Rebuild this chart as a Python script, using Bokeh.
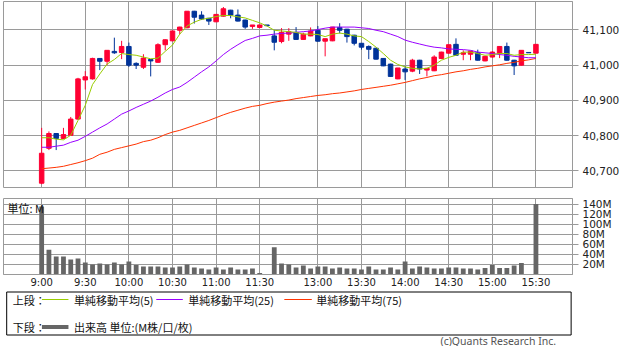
from bokeh.plotting import figure
from bokeh.layouts import column
from bokeh.models import Range1d, FixedTicker, NumeralTickFormatter, Label, ColumnDataSource
from bokeh.embed import file_html
from bokeh.resources import INLINE

# ---------------- data (5-minute bars, Nikkei-style intraday) ----------------
morning = [f"{9 + m // 60}:{m % 60:02d}" for m in range(0, 151, 5)]      # 9:00 .. 11:30
afternoon = [f"{12 + m // 60}:{m % 60:02d}" for m in range(30, 211, 5)]  # 12:30 .. 15:30
times = morning + ["11:35"] + afternoon

opens = [40665, 40764, 40806, 40792, 40801, 40847, 40958, 40961, 41019, 41011,
         41039, 41036, 41053, 41005, 40994, 41016, 41008, 41058, 41069, 41099,
         41106, 41153, 41142, 41133, 41123, 41139, 41156, 41142, 41128, 41110,
         41107, 41114, 41083, 41067, 41088, 41093, 41073, 41083, 41099, 41068,
         41069, 41107, 41102, 41085, 41062, 41053, 41048, 41019, 41003, 40961,
         40989, 40983, 41014, 40986, 40984, 41019, 41034, 41059, 41031, 41031,
         41035, 41012, 41023, 41033, 41053, 41014, 41000, 41036, 41034]
highs = [40822, 40812, 40806, 40822, 40853, 40964, 40983, 41021, 41020, 41042,
         41078, 41069, 41064, 41008, 41031, 41016, 41062, 41073, 41098, 41109,
         41153, 41154, 41153, 41134, 41145, 41165, 41157, 41158, 41129, 41114,
         41114, 41114, 41100, 41105, 41105, 41108, 41092, 41107, 41111, 41075,
         41108, 41119, 41103, 41086, 41063, 41056, 41049, 41020, 41004, 40992,
         40997, 41018, 41015, 40991, 41028, 41038, 41058, 41076, 41042, 41040,
         41044, 41026, 41040, 41053, 41064, 41015, 41042, 41036, 41060]
lows = [40662, 40759, 40759, 40790, 40799, 40845, 40931, 40959, 40986, 41000,
        41032, 41017, 40995, 40989, 40989, 40968, 41007, 41042, 41068, 41088,
        41105, 41118, 41128, 41114, 41122, 41138, 41133, 41124, 41103, 41103,
        41106, 41112, 41042, 41062, 41069, 41072, 41072, 41082, 41067, 41025,
        41068, 41090, 41064, 41056, 41044, 41017, 41016, 40997, 40967, 40960,
        40958, 40980, 40975, 40968, 40983, 41017, 41033, 41027, 41014, 41014,
        41013, 41011, 41021, 41020, 41013, 40972, 40999, 41035, 41033]
closes = [40750, 40806, 40792, 40803, 40847, 40961, 40967, 41019, 41011, 41042,
          41035, 41053, 41000, 41000, 41020, 41012, 41058, 41072, 41097, 41108,
          41153, 41136, 41131, 41125, 41144, 41160, 41142, 41125, 41108, 41114,
          41114, 41112, 41065, 41093, 41095, 41073, 41088, 41097, 41068, 41075,
          41108, 41099, 41081, 41062, 41051, 41045, 41017, 40998, 40968, 40992,
          40981, 41014, 40989, 40991, 41023, 41037, 41058, 41028, 41035, 41040,
          41014, 41025, 41037, 41053, 41014, 40998, 41042, 41035, 41059]

sma5 = [40794, 40794, 40790, 40788, 40801, 40843, 40886, 40945, 40975, 41003,
        41016, 41033, 41030, 41028, 41023, 41018, 41020, 41039, 41057, 41088,
        41111, 41122, 41130, 41133, 41138, 41141, 41141, 41137, 41134, 41127,
        41120, 41111, 41099, 41097, 41095, 41093, 41088, 41088, 41087, 41081,
        41088, 41091, 41088, 41083, 41081, 41067, 41051, 41033, 41014, 41002,
        40995, 40991, 40989, 40991, 41000, 41014, 41022, 41028, 41037, 41037,
        41033, 41028, 41030, 41033, 41033, 41028, 41030, 41030, 41031]
sma25 = [40767, 40767, 40770, 40773, 40781, 40787, 40798, 40810, 40822, 40833,
         40847, 40861, 40870, 40880, 40889, 40898, 40909, 40921, 40931, 40938,
         40951, 40966, 40981, 40995, 41012, 41030, 41045, 41058, 41070, 41076,
         41083, 41085, 41088, 41090, 41091, 41093, 41095, 41097, 41101, 41105,
         41108, 41108, 41108, 41108, 41106, 41104, 41099, 41095, 41088, 41081,
         41071, 41065, 41060, 41055, 41051, 41049, 41046, 41045, 41044, 41042,
         41037, 41035, 41033, 41030, 41028, 41025, 41023, 41021, 41021]
sma75 = [40706, 40708, 40710, 40713, 40718, 40723, 40729, 40736, 40747, 40753,
         40761, 40766, 40771, 40776, 40783, 40787, 40794, 40803, 40810, 40815,
         40822, 40829, 40836, 40843, 40851, 40859, 40866, 40872, 40878, 40883,
         40886, 40891, 40895, 40898, 40901, 40905, 40908, 40911, 40914, 40916,
         40919, 40921, 40924, 40927, 40931, 40934, 40937, 40940, 40943, 40947,
         40951, 40956, 40961, 40965, 40970, 40973, 40977, 40981, 40984, 40988,
         40991, 40995, 40998, 41001, 41005, 41008, 41012, 41015, 41019]

volume_m = [135, 49, 36, 36, 30, 32, 24, 20, 22, 20,
            24, 20, 26, 19, 16, 16, 16, 14, 14, 16,
            20, 14, 12, 10, 14, 10, 14, 10, 10, 12,
            3, 0, 54, 22, 20, 14, 18, 12, 16, 16,
            12, 14, 12, 12, 10, 16, 10, 10, 14, 10,
            26, 12, 16, 14, 12, 12, 14, 14, 12, 12,
            10, 13, 19, 13, 13, 18, 23, 1, 140]

tick_labels = ["9:00", "9:30", "10:00", "10:30", "11:00", "11:30",
               "13:00", "13:30", "14:00", "14:30", "15:00", "15:30"]
price_ticks = [40700, 40800, 40900, 41000, 41100]
vol_ticks = [20, 40, 60, 80, 100, 120, 140]

PRICE_RANGE = (40652.8, 41180.6)
VOL_RANGE = (0, 151)
X_RANGE = (-5.25, 73.03)

RED = "#FF0033"
BLUE = "#003399"
GRID = "#9A9A9A"
LABEL_COLOR = "#222222"
JP_FONT = "Noto Sans CJK JP"

x = list(range(len(times)))
tick_pos = [times.index(t) for t in tick_labels]
colors = [RED if c >= o else BLUE for o, c in zip(opens, closes)]
src = ColumnDataSource(dict(
    x=x, o=opens, h=highs, l=lows, c=closes,
    top=[max(o, c) for o, c in zip(opens, closes)],
    bottom=[min(o, c) for o, c in zip(opens, closes)],
    color=colors, vol=volume_m, s5=sma5, s25=sma25, s75=sma75,
))

W = 622
LB = 3
RB = 48
xr = Range1d(*X_RANGE)


def style_common(p):
    p.background_fill_color = "white"
    p.border_fill_color = "white"
    p.outline_line_color = GRID
    p.outline_line_width = 1
    p.grid.grid_line_color = GRID
    p.grid.grid_line_width = 1
    p.yaxis.axis_line_color = GRID
    p.yaxis.major_tick_line_color = GRID
    p.yaxis.major_tick_out = 6
    p.yaxis.major_tick_in = 0
    p.yaxis.minor_tick_line_color = None
    p.yaxis.major_label_standoff = 4
    p.yaxis.major_label_text_font = "DejaVu Sans"
    p.yaxis.major_label_text_font_size = "10.5px"
    p.yaxis.major_label_text_color = LABEL_COLOR


# ---------------- upper panel: candles + moving averages ----------------
p1 = figure(width=W, height=197, x_range=xr, y_range=Range1d(*PRICE_RANGE),
            y_axis_location="right", output_backend="svg", toolbar_location=None,
            min_border_left=LB, min_border_right=RB, min_border_top=1, min_border_bottom=10)
style_common(p1)
p1.xaxis.visible = False
p1.xgrid.ticker = FixedTicker(ticks=tick_pos)
p1.yaxis.ticker = FixedTicker(ticks=price_ticks)
p1.ygrid.ticker = FixedTicker(ticks=price_ticks)
p1.yaxis.formatter = NumeralTickFormatter(format="0,0")

p1.segment(x0="x", y0="l", x1="x", y1="h", line_color="color", line_width=1, source=src)
p1.vbar(x="x", width=0.62, top="top", bottom="bottom", fill_color="color",
        line_color="color", line_width=1, source=src)
p1.line("x", "s75", line_color="#FF3300", line_width=1, source=src)
p1.line("x", "s25", line_color="#9900FF", line_width=1, source=src)
p1.line("x", "s5", line_color="#99CC00", line_width=1, source=src)

# ---------------- lower panel: volume ----------------
p2 = figure(width=W, height=93, x_range=xr, y_range=Range1d(*VOL_RANGE),
            y_axis_location="right", output_backend="svg", toolbar_location=None,
            min_border_left=LB, min_border_right=RB, min_border_top=1, min_border_bottom=15)
style_common(p2)
p2.yaxis.ticker = FixedTicker(ticks=vol_ticks)
p2.ygrid.ticker = FixedTicker(ticks=vol_ticks)
p2.yaxis.major_label_overrides = {v: f"{v}M" for v in vol_ticks}
p2.xaxis.ticker = FixedTicker(ticks=tick_pos)
p2.xgrid.ticker = FixedTicker(ticks=tick_pos)
p2.xaxis.major_label_overrides = {pos: lab for pos, lab in zip(tick_pos, tick_labels)}
p2.xaxis.axis_line_color = GRID
p2.xaxis.major_tick_out = 0
p2.xaxis.major_tick_in = 0
p2.xaxis.minor_tick_line_color = None
p2.xaxis.major_label_standoff = 2
p2.xaxis.major_label_text_font = "DejaVu Sans"
p2.xaxis.major_label_text_font_size = "10px"
p2.xaxis.major_label_text_color = LABEL_COLOR

p2.vbar(x="x", width=0.66, top="vol", bottom=0, fill_color="#666666",
        line_color=None, source=src)
p2.add_layout(Label(x=X_RANGE[0], y=VOL_RANGE[1], x_offset=4, y_offset=-1,
                    text="単位: M", text_baseline="top", text_font=JP_FONT,
                    text_font_size="11px", text_color="#111111"))

# ---------------- legend / footer panel ----------------
LW, LH = W, 56
p3 = figure(width=LW, height=LH, x_range=Range1d(0, LW), y_range=Range1d(LH, 0),
            x_axis_location=None, y_axis_location=None, output_backend="svg",
            toolbar_location=None, min_border=0)
p3.background_fill_color = "white"
p3.border_fill_color = "white"
p3.outline_line_color = None
p3.xgrid.visible = False
p3.ygrid.visible = False

p3.quad(left=[3.5], right=[620.5], top=[1.5], bottom=[44.5],
        fill_color=None, line_color="black", line_width=1)

r1, r2 = 9.0, 36.5
legend_rows = [
    ("#99CC00", 1, 42, 71, r1, "単純移動平均(5)", 77),
    ("#9900FF", 1, 167, 196, r1, "単純移動平均(25)", 202),
    ("#FF3300", 1, 307, 337, r1, "単純移動平均(75)", 342),
    ("#666666", 4, 42, 71, r2, "出来高 単位:(M株/口/枚)", 77),
]
for col, lw, xa, xb, yy, txt, tx in legend_rows:
    p3.segment(x0=[xa], x1=[xb], y0=[yy], y1=[yy], line_color=col, line_width=lw)
    p3.add_layout(Label(x=tx, y=yy, text=txt, text_baseline="middle",
                        text_font=JP_FONT, text_font_size="11px", text_color="#111111"))
for yy, txt in [(r1, "上段："), (r2, "下段：")]:
    p3.add_layout(Label(x=10, y=yy, text=txt, text_baseline="middle",
                        text_font=JP_FONT, text_font_size="11px", text_color="#111111"))
p3.add_layout(Label(x=604, y=50, text="(c)Quants Research Inc.", text_align="right",
                    text_baseline="middle", text_font="Noto Sans",
                    text_font_size="10.5px", text_color="#555555"))

layout = column(p1, p2, p3, spacing=0)
open("out.html", "w").write(file_html(layout, INLINE))
